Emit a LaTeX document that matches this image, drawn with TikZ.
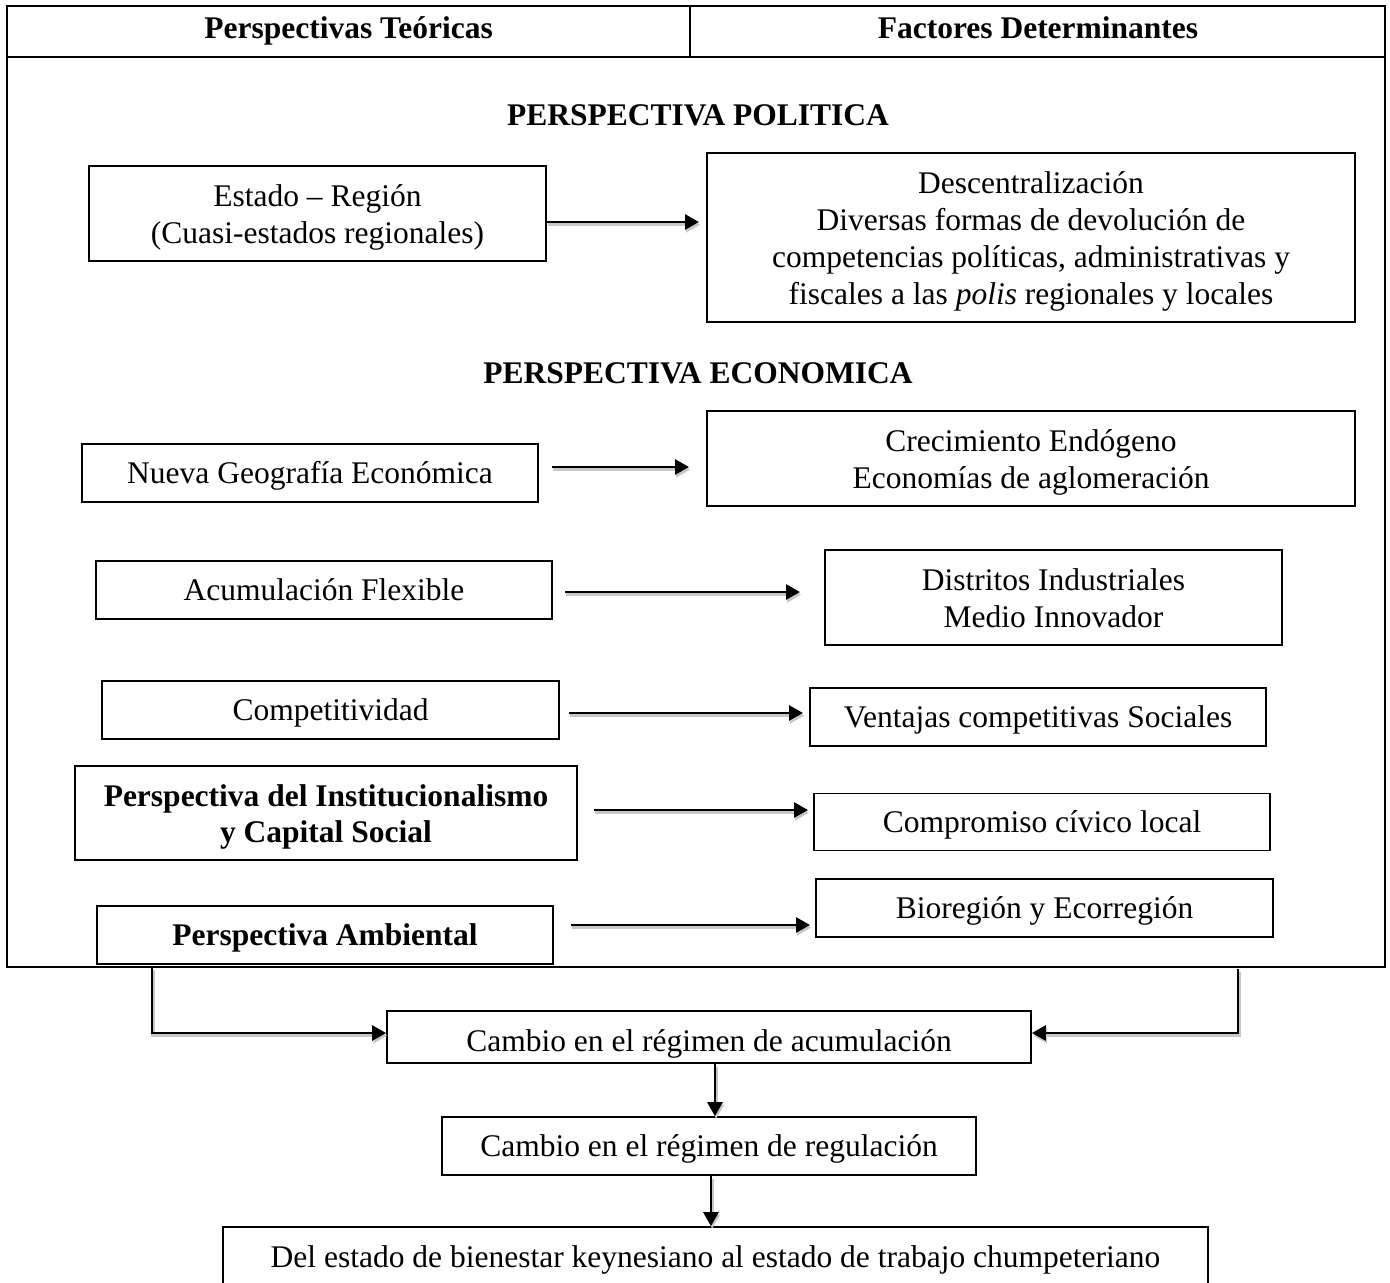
\documentclass[tikz,border=0pt]{standalone}
\usepackage{fontspec}
\setmainfont{Liberation Serif}
\usetikzlibrary{arrows.meta}
\newcommand{\tstrut}{\rule[-3.95pt]{0pt}{18.4pt}}
\newcommand{\tstrutml}{\rule[-3.95pt]{0pt}{19.4pt}}
\begin{document}
\begin{tikzpicture}[x=0.5pt,y=-0.5pt,
  txt/.style={font=\fontsize{15.75pt}{18.4pt}\selectfont,
    execute at begin node=\tstrut, execute at end node=\tstrut},
  box/.style={txt, draw, line width=0.9pt, align=center, inner sep=0pt},
  boldbox/.style={box, font=\fontsize{15.75pt}{18.4pt}\selectfont\bfseries},
  head/.style={txt, font=\fontsize{15.75pt}{18.4pt}\selectfont\bfseries, inner sep=0pt},
  frame/.style={line width=1.3pt},
  arr/.style={-{Triangle[length=7pt,width=7.5pt]}, line width=1.4pt,
    preaction={draw=black!22, line width=1.8pt, transform canvas={shift={(0.6pt,-1.3pt)}}}},
]
\useasboundingbox (0,0) rectangle (1390,1283);
\clip (0,0) rectangle (1390,1283);

% outer frame and header
\draw[frame] (7,6) rectangle (1385,967);
\draw[frame] (7,57) -- (1385,57);
\draw[frame] (690,6) -- (690,57);
\node[head] (h1) at (348.5,28) {Perspectivas Teóricas};
\node[head] (h2) at (1038,28) {Factores Determinantes};

\node[head] (pol) at (698,115) {PERSPECTIVA POLITICA};
\node[head] (eco) at (698,373) {PERSPECTIVA ECONOMICA};

% left column
\node[box, minimum width=228.5pt, minimum height=47.5pt] (estado) at (317.5,213.5) {\tstrutml Estado – Región\\(Cuasi-estados regionales)\tstrut};
\node[box, minimum width=228pt, minimum height=29pt] (nueva) at (310,473) {Nueva Geografía Económica};
\node[box, minimum width=228pt, minimum height=29pt] (acum) at (324,590) {Acumulación Flexible};
\node[box, minimum width=228.5pt, minimum height=29pt] (comp) at (330.5,710) {Competitividad};
\node[boldbox, minimum width=251pt, minimum height=47pt] (inst) at (326,813) {\tstrutml Perspectiva del Institucionalismo\\y Capital Social\tstrut};
\node[boldbox, minimum width=228pt, minimum height=29pt] (amb) at (325,935) {Perspectiva Ambiental};

% right column
\node[box, minimum width=324pt, minimum height=84.5pt] (desc) at (1031,237.5) {\tstrutml Descentralización\\Diversas formas de devolución de\\competencias políticas, administrativas y\\fiscales a las \textit{polis} regionales y locales\tstrut};
\node[box, minimum width=324pt, minimum height=47.5pt] (crec) at (1031,458.5) {\tstrutml Crecimiento Endógeno\\Economías de aglomeración\tstrut};
\node[box, minimum width=228.5pt, minimum height=47.5pt] (dist) at (1053.5,597.5) {\tstrutml Distritos Industriales\\Medio Innovador\tstrut};
\node[box, minimum width=228pt, minimum height=29pt] (vent) at (1038,717) {Ventajas competitivas Sociales};
\node[box, minimum width=228pt, minimum height=28.5pt] (civ) at (1042,822) {Compromiso cívico local};
\node[box, minimum width=228.5pt, minimum height=29pt] (bio) at (1044.5,908) {Bioregión y Ecorregión};

% bottom chain
\node[box, minimum width=322pt, minimum height=26pt, text depth=0pt] (cacum) at (709,1037) {Cambio en el régimen de acumulación};
\node[box, minimum width=267pt, minimum height=29pt] (creg) at (709,1146) {Cambio en el régimen de regulación};
\node[box, minimum width=492.5pt, minimum height=30pt] (fin) at (715.5,1257) {Del estado de bienestar keynesiano al estado de trabajo chumpeteriano};

% free arrow ends
\coordinate (e1) at (699,222);
\coordinate (s2) at (552,467);  \coordinate (e2) at (689,467);
\coordinate (s3) at (565,592);  \coordinate (e3) at (800,592);
\coordinate (s4) at (569,713);  \coordinate (e4) at (803,713);
\coordinate (s5) at (594,810);  \coordinate (e5) at (808,810);
\coordinate (s6) at (571,925);  \coordinate (e6) at (810,925);
\coordinate (lt) at (152,967);  \coordinate (lb) at (152,1033);
\coordinate (rt) at (1238,969); \coordinate (rb) at (1238,1033);
\coordinate (d1) at (715,0);    \coordinate (d2) at (711,0);

\draw[arr] (estado.east |- e1) -- (e1);
\draw[arr] (s2) -- (e2);
\draw[arr] (s3) -- (e3);
\draw[arr] (s4) -- (e4);
\draw[arr] (s5) -- (e5);
\draw[arr] (s6) -- (e6);
\draw[arr] (lt) -- (lb) -- (cacum.west |- lb);
\draw[arr] (rt) -- (rb) -- (cacum.east |- rb);
\draw[arr] (cacum.south -| d1) -- (creg.north -| d1);
\draw[arr] (creg.south -| d2) -- (fin.north -| d2);
\end{tikzpicture}
\end{document}
